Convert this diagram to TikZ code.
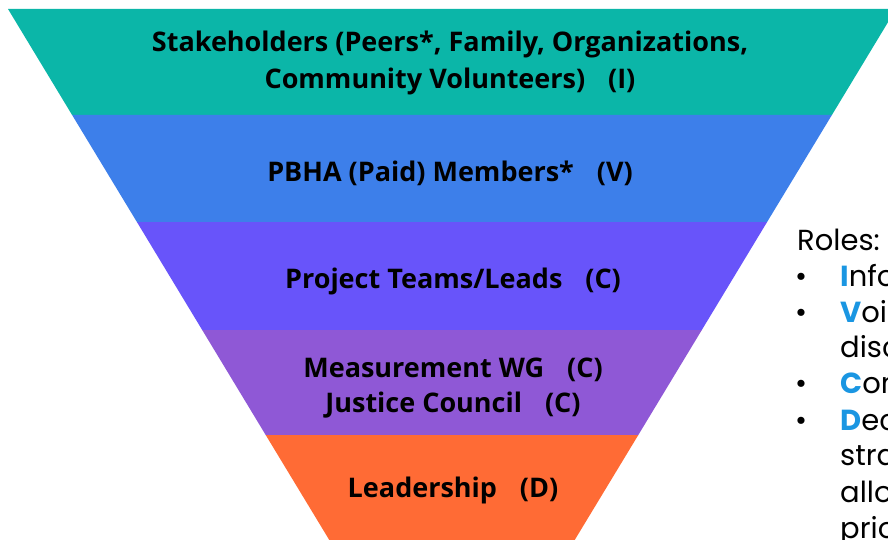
\documentclass[tikz,border=0pt]{standalone}
\usepackage{fontspec}
\setmainfont{Poppins}
\newfontfamily\bandfont{Open Sans}
\usepackage{xcolor}
\usepackage{tikz}
\definecolor{FunTeal}{HTML}{0BB6A8}
\definecolor{FunBlue}{HTML}{3D7FEA}
\definecolor{FunIndigo}{HTML}{6854FA}
\definecolor{FunPurple}{HTML}{8F58D6}
\definecolor{FunOrange}{HTML}{FF6B35}
\definecolor{RoleBlue}{HTML}{1A96E2}
\newcommand\initial[1]{{\bfseries\color{RoleBlue}#1}}
\newcommand\gap{\hspace{0.85em}}

\begin{document}
\begin{tikzpicture}[x=1pt,y=-1pt,
  band/.style={font=\bandfont\bfseries\fontsize{27}{27}\selectfont,anchor=base,inner sep=0pt},
  role/.style={font=\fontsize{29}{29}\selectfont,anchor=base west,inner sep=0pt}]
\path[use as bounding box] (0,0) rectangle (888,540);
\clip (0,0) rectangle (888,540);
\fill[FunTeal] (8,9) -- (896,9) -- (831.9,115) -- (72.1,115) -- cycle;
\fill[FunBlue] (72.1,115) -- (831.9,115) -- (767.1,222) -- (136.9,222) -- cycle;
\fill[FunIndigo] (136.9,222) -- (767.1,222) -- (701.8,330) -- (202.2,330) -- cycle;
\fill[FunPurple] (202.2,330) -- (701.8,330) -- (638.3,435) -- (265.7,435) -- cycle;
\fill[FunOrange] (265.7,435) -- (638.3,435) -- (574.7,540) -- (329.3,540) -- cycle;
\node[band] (stakeA) at (450,52) {Stakeholders (Peers*, Family, Organizations,};
\node[band] (stakeB) at (450,89) {Community Volunteers)\gap(I)};
\node[band] (members) at (450,182) {PBHA (Paid) Members*\gap(V)};
\node[band] (teams) at (453,288) {Project Teams/Leads\gap(C)};
\node[band] (measure) at (453,377) {Measurement WG\gap(C)};
\node[band] (council) at (453,412) {Justice Council\gap(C)};
\node[band] (leaders) at (453,497) {Leadership\gap(D)};
\node[role] (roles) at (797,250) {Roles:};
\node[role] (dotI) at (795,286) {\textbullet};
\node[role] (inform) at (840,286) {\initial{I}nform};
\node[role] (dotV) at (795,322) {\textbullet};
\node[role] (voice) at (840,322) {\initial{V}oice in};
\node[role] (voiceB) at (840,357) {discussion};
\node[role] (dotC) at (795,393) {\textbullet};
\node[role] (consult) at (840,393) {\initial{C}onsult};
\node[role] (dotD) at (795,430) {\textbullet};
\node[role] (decide) at (840,430) {\initial{D}ecide on};
\node[role] (decideB) at (840,465) {strategy,};
\node[role] (decideC) at (840,502) {allocation,};
\node[role] (decideD) at (840,538) {priorities};
\end{tikzpicture}
\end{document}
